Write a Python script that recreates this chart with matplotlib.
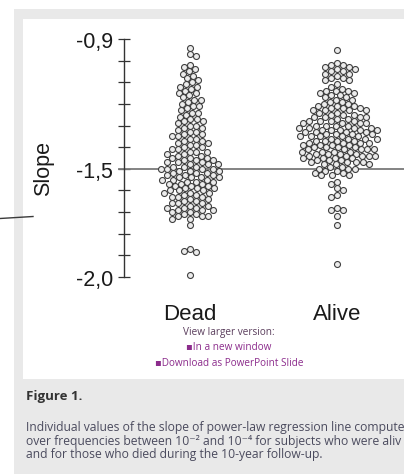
import numpy as np
import matplotlib
matplotlib.use("Agg")
import matplotlib.pyplot as plt
from matplotlib.lines import Line2D
from matplotlib.patches import Rectangle

# ---- data -------------------------------------------------------------
categories = ["Dead", "Alive"]

dead_slopes = [
    -0.94, -0.97, -0.98,
    -1.02, -1.03, -1.04,
    -1.05, -1.06, -1.07,
    -1.08, -1.09, -1.10,
    -1.11, -1.12, -1.12, -1.13,
    -1.14, -1.15, -1.15, -1.16,
    -1.17, -1.18, -1.18, -1.19,
    -1.20, -1.21, -1.21, -1.22,
    -1.23, -1.24, -1.24, -1.25,
    -1.26, -1.27, -1.27, -1.28, -1.28,
    -1.29, -1.30, -1.30, -1.31, -1.31,
    -1.32, -1.33, -1.33, -1.34, -1.34,
    -1.35, -1.35, -1.36, -1.36, -1.37, -1.37,
    -1.38, -1.38, -1.39, -1.39, -1.40, -1.40,
    -1.41, -1.41, -1.42, -1.42, -1.42, -1.43, -1.43,
    -1.44, -1.44, -1.45, -1.45, -1.45, -1.46, -1.46, -1.46,
    -1.47, -1.47, -1.47, -1.48, -1.48, -1.48, -1.49, -1.49, -1.49,
    -1.50, -1.50, -1.50, -1.50, -1.51, -1.51, -1.51, -1.52, -1.52, -1.52,
    -1.53, -1.53, -1.53, -1.54, -1.54, -1.54, -1.54, -1.55, -1.55, -1.55,
    -1.56, -1.56, -1.56, -1.57, -1.57, -1.57, -1.58, -1.58, -1.58,
    -1.59, -1.59, -1.59, -1.60, -1.60, -1.60, -1.61, -1.61, -1.61,
    -1.62, -1.62, -1.63, -1.63, -1.63, -1.64, -1.64,
    -1.65, -1.65, -1.66, -1.66, -1.66, -1.67, -1.67,
    -1.68, -1.68, -1.68, -1.69, -1.69, -1.69, -1.70, -1.70,
    -1.71, -1.71, -1.72, -1.72, -1.72, -1.73, -1.73,
    -1.76,
    -1.87, -1.88, -1.885,
    -1.99,
]

alive_slopes = [
    -0.95,
    -1.01, -1.02, -1.02, -1.03, -1.03,
    -1.04, -1.04, -1.05, -1.05, -1.06, -1.06,
    -1.07, -1.08, -1.08, -1.09, -1.09,
    -1.11, -1.12,
    -1.13, -1.14, -1.14, -1.14, -1.15, -1.15,
    -1.16, -1.16, -1.17, -1.17, -1.18, -1.18,
    -1.19, -1.19, -1.20, -1.20, -1.21, -1.21, -1.21,
    -1.22, -1.22, -1.22, -1.23, -1.23, -1.23, -1.23, -1.24, -1.24,
    -1.25, -1.25, -1.25, -1.26, -1.26, -1.26, -1.26, -1.27, -1.27,
    -1.28, -1.28, -1.28, -1.28, -1.29, -1.29, -1.29, -1.29, -1.30, -1.30, -1.30, -1.30,
    -1.31, -1.31, -1.31, -1.31, -1.32, -1.32, -1.32, -1.32, -1.32, -1.33, -1.33, -1.33, -1.33,
    -1.34, -1.34, -1.34, -1.34, -1.35, -1.35, -1.35, -1.35, -1.35, -1.36, -1.36, -1.36, -1.36,
    -1.37, -1.37, -1.37, -1.37, -1.38, -1.38, -1.38, -1.38, -1.39, -1.39, -1.39, -1.39,
    -1.40, -1.40, -1.40, -1.40, -1.41, -1.41, -1.41, -1.41, -1.41, -1.42, -1.42, -1.42, -1.42,
    -1.43, -1.43, -1.43, -1.43, -1.44, -1.44, -1.44, -1.44, -1.44, -1.45, -1.45, -1.45, -1.45,
    -1.46, -1.46, -1.46, -1.47, -1.47, -1.47, -1.47, -1.48, -1.48, -1.48,
    -1.49, -1.49, -1.50, -1.50, -1.50, -1.51, -1.51,
    -1.52, -1.52, -1.53, -1.53, -1.53,
    -1.56, -1.57,
    -1.59, -1.60,
    -1.62, -1.63,
    -1.68, -1.69, -1.69,
    -1.72,
    -1.76,
    -1.94,
]

ytick_values = [-2.0, -1.5, -0.9]
ytick_labels = ["-2,0", "-1,5", "-0,9"]
reference_slope = -1.5

# ---- figure / page frame ----------------------------------------------
W, H, DPI = 404, 477, 100
fig = plt.figure(figsize=(W / DPI, H / DPI), dpi=DPI, facecolor="white")


def fx(px):
    return px / W


def fy(py):
    return 1 - py / H


page_grey = "#e9e9e9"
fig.patches.append(Rectangle((fx(14), fy(475)), fx(W + 10) - fx(14), fy(10) - fy(475),
                             transform=fig.transFigure, facecolor=page_grey,
                             edgecolor="none", zorder=-3))
fig.patches.append(Rectangle((fx(23), fy(380)), fx(W + 10) - fx(23), fy(20) - fy(380),
                             transform=fig.transFigure, facecolor="white",
                             edgecolor="none", zorder=-2))
fig.lines.append(Line2D([fx(0), fx(33)], [fy(219.5), fy(217.5)], transform=fig.transFigure,
                        color="#3a3a3a", lw=1.0, zorder=-1))

# ---- axes -------------------------------------------------------------
px_per_unit = 216.4
y_top, y_bot = -0.85, -2.10
ax_top_px = 40 - (y_top - (-0.9)) * px_per_unit
ax_bot_px = 278 + (-2.0 - y_bot) * px_per_unit
ax_left_px, ax_right_px = 124, 480
cat_px = 147.0
x_left = -(190 - ax_left_px) / cat_px
x_right = 1 + (ax_right_px - 337) / cat_px

ax = fig.add_axes([fx(ax_left_px), fy(ax_bot_px), fx(ax_right_px) - fx(ax_left_px),
                   fy(ax_top_px) - fy(ax_bot_px)])
ax.set_zorder(2)
ax.patch.set_alpha(0)
ax.set_xlim(x_left, x_right)
ax.set_ylim(y_bot, y_top)


def swarm_offsets(values, spacing_px):
    """Horizontal offsets (display px) that keep points at least spacing_px apart."""
    yd = ax.transData.transform(np.column_stack([np.zeros(len(values)), values]))[:, 1]
    xs = np.zeros(len(values))
    placed = []
    flip = 1.0
    for i in np.argsort(-yd, kind="stable"):
        y = yd[i]
        near = [(px, py) for px, py in placed if abs(py - y) < spacing_px]
        cands = [0.0]
        for px, py in near:
            dx = np.sqrt(spacing_px ** 2 - (py - y) ** 2)
            cands += [px + dx, px - dx]
        cands.sort(key=lambda c: (round(abs(c), 4), -flip * c))
        for c in cands:
            if all((c - px) ** 2 + (y - py) ** 2 >= spacing_px ** 2 - 1e-6 for px, py in near):
                xs[i] = c
                break
        if xs[i] != 0:
            flip = -flip
        placed.append((xs[i], y))
    return xs


for pos, vals in enumerate([dead_slopes, alive_slopes]):
    vals = np.asarray(vals)
    off_px = swarm_offsets(vals, 6.4)
    x_disp = ax.transData.transform([[pos, 0]])[0, 0] + off_px
    x_data = ax.transData.inverted().transform(
        np.column_stack([x_disp, np.zeros(len(vals))]))[:, 0]
    ax.scatter(x_data, vals, s=4.3 ** 2, facecolor="#ececec", edgecolor="#3f3f3f",
               linewidths=0.8, zorder=3)

ax.plot([x_left - 5 / cat_px, x_right], [reference_slope, reference_slope],
        color="#7a7a7a", lw=1.3, clip_on=False, zorder=2)

for side in ("top", "right", "bottom"):
    ax.spines[side].set_visible(False)
ax.spines["left"].set_bounds(-2.0, -0.9)
ax.spines["left"].set_color("#333333")
ax.spines["left"].set_linewidth(1.0)

font = "Liberation Sans"
tick_positions = np.round(np.arange(-2.0, -0.85, 0.1), 2)
ax.set_yticks(tick_positions)
ax.set_yticklabels([ytick_labels[ytick_values.index(v)] if v in ytick_values else ""
                    for v in tick_positions])
ax.tick_params(axis="y", direction="inout", length=8, width=0.9, color="#333333",
               pad=4.0, labelsize=15.5, labelcolor="#1a1a1a")
for lab in ax.get_yticklabels():
    lab.set_fontfamily(font)

ax.set_xticks([0, 1])
ax.set_xticklabels(categories, fontsize=16, fontfamily=font, color="#1a1a1a")
ax.tick_params(axis="x", length=0, pad=3.2)

fig.text(fx(44), fy(169), "Slope", rotation=90, ha="center", va="center",
         fontsize=15.5, fontfamily=font, color="#1a1a1a")

# ---- links and caption -------------------------------------------------
small = ["Open Sans", "DejaVu Sans"]
fig.text(fx(229), fy(332), "View larger version:", ha="center", va="center",
         fontsize=7.2, family=small, color="#5a3d5c")
fig.text(fx(229), fy(347.5), "\u25aaIn a new window", ha="center", va="center",
         fontsize=7.2, family=small, color="#8c2c8c")
fig.text(fx(229), fy(363), "\u25aaDownload as PowerPoint Slide", ha="center", va="center",
         fontsize=7.2, family=small, color="#8c2c8c")

fig.text(fx(26), fy(397), "Figure 1.", ha="left", va="center",
         fontsize=9.5, family=small, fontweight="bold", color="#333333")

caption = [
    "Individual values of the slope of power-law regression line compute",
    "over frequencies between 10\u207b\u00b2 and 10\u207b\u2074 for subjects who were aliv",
    "and for those who died during the 10-year follow-up.",
]
for i, line in enumerate(caption):
    fig.text(fx(26), fy(428 + i * 13.5), line, ha="left", va="center",
             fontsize=8.7, family=small, color="#4b4b5e")

fig.savefig("out.png", dpi=DPI)
